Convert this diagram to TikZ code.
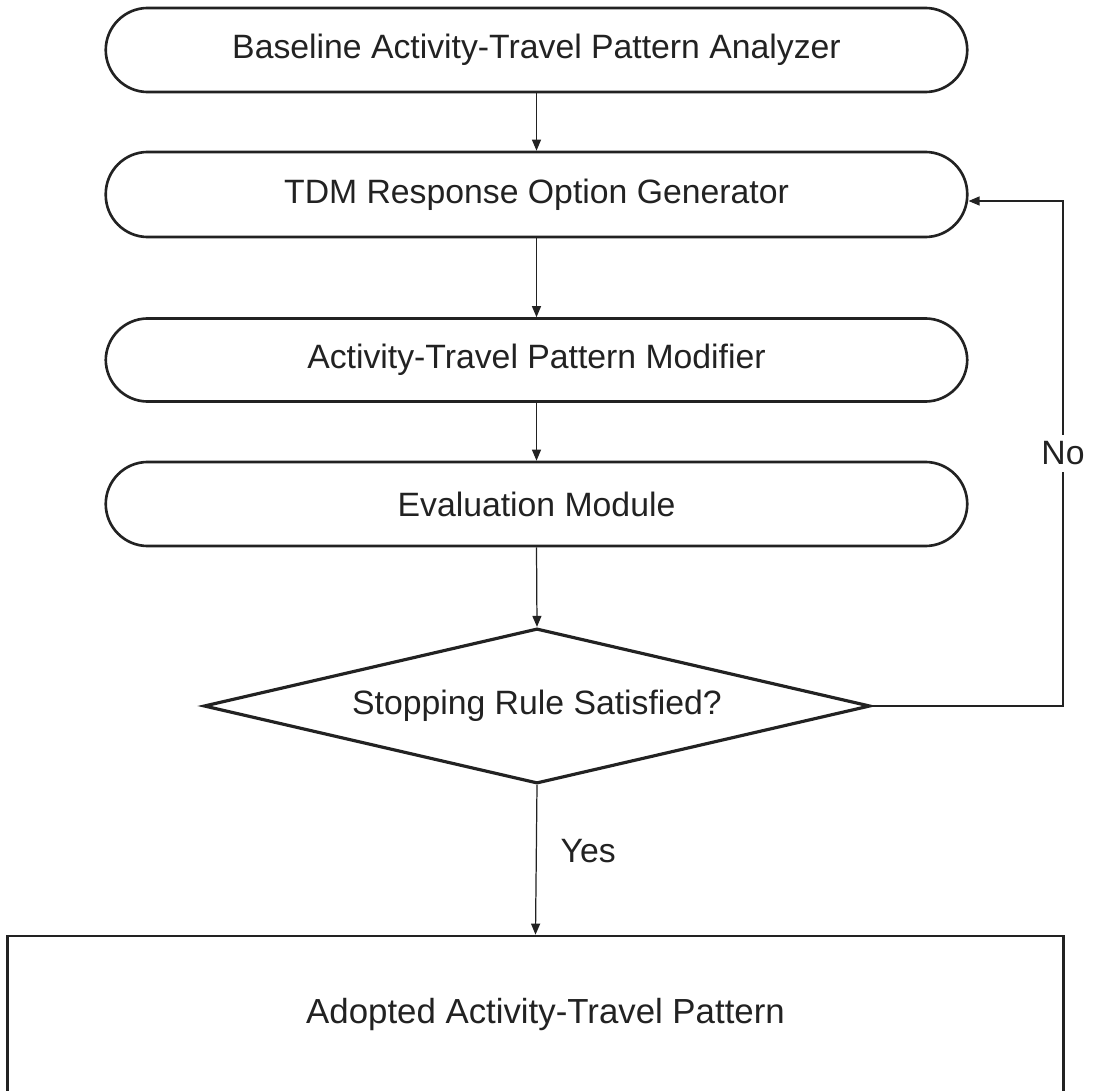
\documentclass[tikz,border=0pt]{standalone}
\usepackage{fontspec}
\setmainfont{Liberation Sans}
\usetikzlibrary{shapes.geometric,arrows.meta,calc}
\definecolor{ink}{HTML}{222222}
\begin{document}
\begin{tikzpicture}[x=0.01cm,y=-0.01cm,
  lbl/.style={font=\fontsize{9.6pt}{11pt}\selectfont, text=ink},
  stadium/.style={draw=ink, line width=0.75pt, rounded corners=0.42cm,
    minimum width=8.61cm, minimum height=0.84cm, inner sep=0pt, lbl},
  decision/.style={draw=ink, line width=0.9pt, diamond, aspect=4.3,
    minimum width=6.66cm, minimum height=1.55cm, inner sep=0pt, lbl},
  finalbox/.style={draw=ink, line width=0.75pt, rectangle,
    minimum width=10.55cm, minimum height=1.56cm, inner sep=0pt,
    font=\fontsize{9.9pt}{11pt}\selectfont, text=ink},
  arr/.style={draw=ink, line width=0.35pt, -{Triangle[length=0.11cm,width=0.09cm]}}]
\useasboundingbox (0,0) rectangle (1093,1091);
\clip (0,0) rectangle (1093,1091);
\fill[white] (0,0) rectangle (1093,1091);

\node[stadium] (b1) at (536.5,50) {Baseline Activity-Travel Pattern Analyzer};
\node[stadium, minimum height=0.85cm] (b2) at (536.5,194.5) {TDM Response Option Generator};
\node[stadium, minimum height=0.83cm] (b3) at (536.5,360) {Activity-Travel Pattern Modifier};
\node[stadium] (b4) at (536.5,504) {Evaluation Module};
\node[decision] (d) at (537,706) {Stopping Rule Satisfied?};
\node[finalbox] (b5) at (535.5,1014) {\hspace*{0.2cm}Adopted Activity-Travel Pattern};

\coordinate (c1) at (1063,706);
\coordinate (c2) at (1063,201);

\draw[arr] (b1.south) -- (b2.north);
\draw[arr] (b2.south) -- (b3.north);
\draw[arr] (b3.south) -- (b4.north);
\draw[arr] (b4.south) -- (d.north);
\draw[arr] (d.south) -- node[lbl, pos=0.44, right=0.12cm] {Yes} (b5.north);
\draw[arr] (d.east) -- (c1) -- node[lbl, fill=white, inner sep=2pt, pos=0.5] {No} (c2) -- ($(b2.east)+(0,6.5)$);
\end{tikzpicture}
\end{document}
